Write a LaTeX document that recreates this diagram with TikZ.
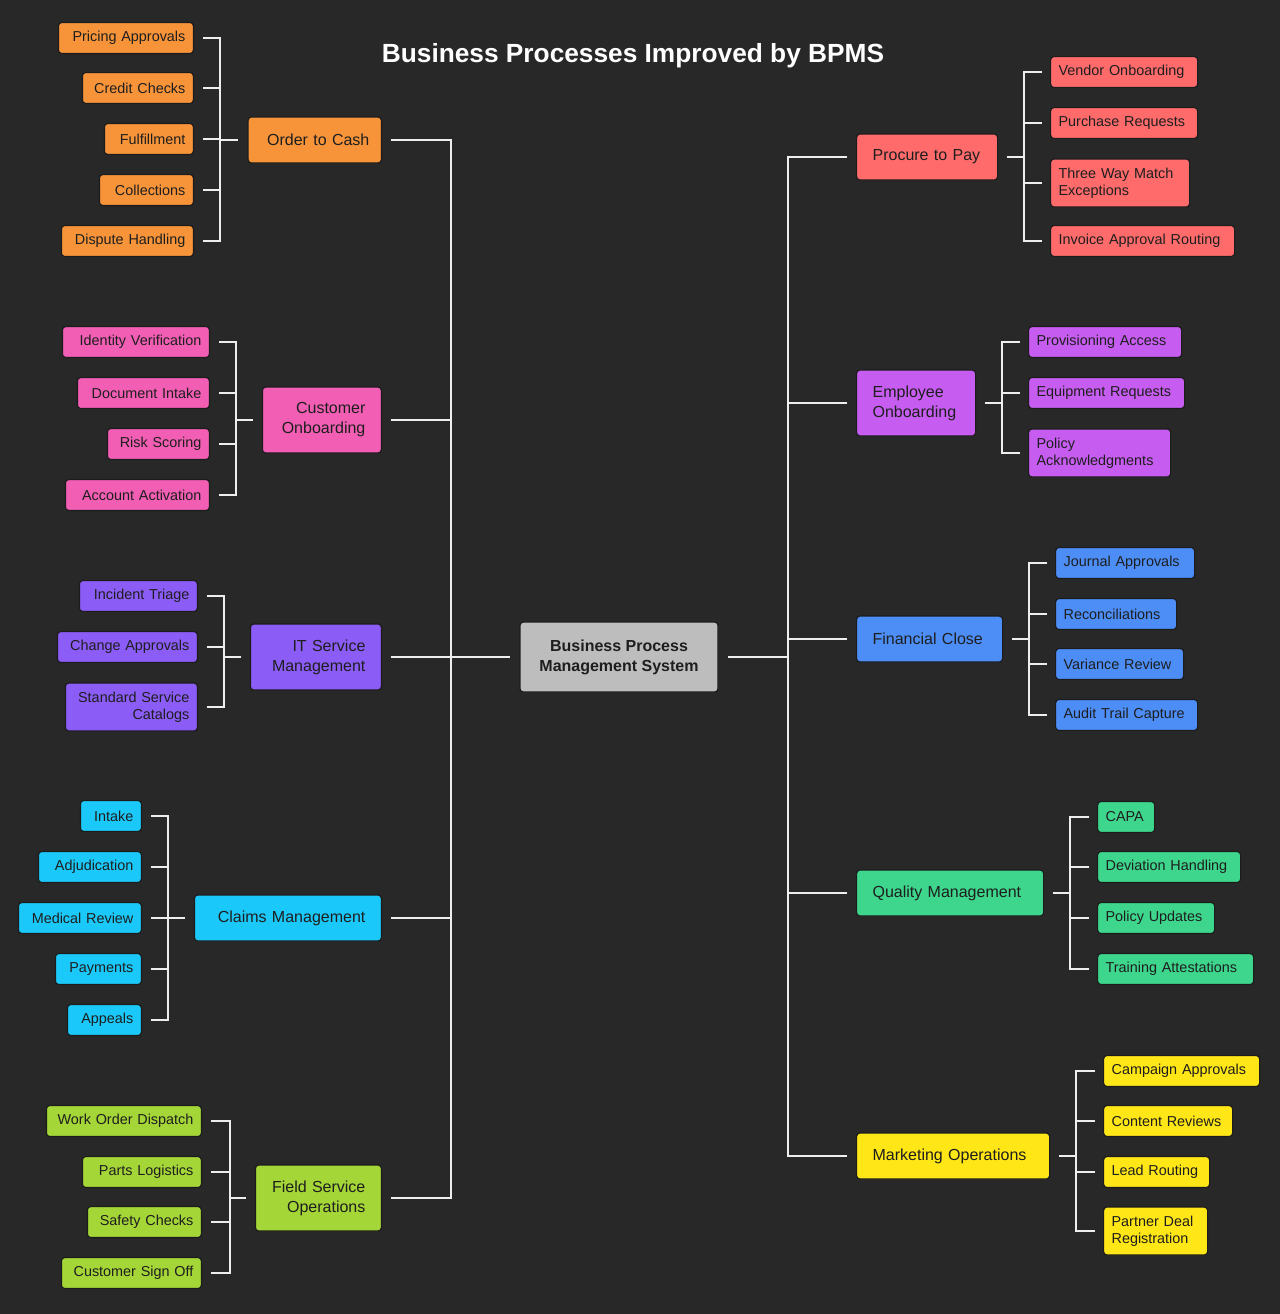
\documentclass[tikz,border=0pt]{standalone}
\usepackage{fontspec}
\setmainfont{Liberation Sans}
\definecolor{bgc}{HTML}{282828}
\definecolor{linec}{HTML}{EEEEEE}
\definecolor{edgec}{HTML}{1C1C1C}
\definecolor{txtc}{HTML}{1E1E1E}
\definecolor{corange}{HTML}{F7943A}
\definecolor{cpink}{HTML}{F25EB3}
\definecolor{cpurple}{HTML}{8B5CF6}
\definecolor{ccyan}{HTML}{1BC8FA}
\definecolor{clime}{HTML}{A5D638}
\definecolor{cred}{HTML}{FF6B6B}
\definecolor{cviolet}{HTML}{C65DF0}
\definecolor{cblue}{HTML}{4C8DF6}
\definecolor{cgreen}{HTML}{3DD68C}
\definecolor{cyellow}{HTML}{FFE617}
\definecolor{cgray}{HTML}{BDBDBD}
\newcommand\lfnt{\fontsize{10.8}{12.75}\selectfont}
\newcommand\mfnt{\fontsize{12}{15}\selectfont}
\tikzset{
  conn/.style={draw=linec, line width=1.5pt},
  bx/.style={rounded corners=2.5pt, draw=edgec, line width=0.9pt, text=txtc, inner ysep=1pt},
  lw/.style={/utils/exec={\pgfmathsetmacro\mytw{(#1-16)*0.75}}, text width=\mytw pt},
  mw/.style={/utils/exec={\pgfmathsetmacro\mytw{(#1-32)*0.75}}, text width=\mytw pt},
  leaf/.style={bx, fill=#1, font=\lfnt, inner xsep=6pt, minimum height=23.25pt},
  leafL/.style={leaf=#1, anchor=east, align=right},
  leafR/.style={leaf=#1, anchor=west, align=left},
  tall/.style={minimum height=36pt},
  mid/.style={bx, fill=#1, font=\mfnt, inner xsep=12pt, minimum height=34.5pt},
  midL/.style={mid=#1, anchor=east, align=right},
  midR/.style={mid=#1, anchor=west, align=left},
  midtall/.style={minimum height=49.5pt},
}
\begin{document}
\begin{tikzpicture}[x=0.75pt, y=-0.75pt]
\fill[bgc] (0,0) rectangle (1280,1314);
\useasboundingbox (0,0) rectangle (1280,1314);

\node[text=white, font=\bfseries\fontsize{19.7}{22}\selectfont] (title) at (633,56) {Business Processes Improved by BPMS};

% center
\node[bx, fill=cgray, font=\bfseries\fontsize{12}{15}\selectfont, align=center, minimum width=148.5pt, minimum height=52.5pt] (ctr) at (619,657) {Business Process\\Management System};

% ---------- left parents ----------
\node[midL=corange, inner xsep=9pt, text width=82pt] (A) at (382,140) {Order to Cash};
\node[midL=cpink, mw=119, midtall] (B) at (382,420) {Customer\\Onboarding};
\node[midL=cpurple, mw=131, midtall] (C) at (382,657) {IT Service\\Management};
\node[midL=ccyan, mw=187] (D) at (382,918) {Claims Management};
\node[midL=clime, mw=126, midtall] (E) at (382,1198) {Field Service\\Operations};

% ---------- right parents ----------
\node[midR=cred, mw=141] (F) at (856,157) {Procure to Pay};
\node[midR=cviolet, mw=119, midtall] (G) at (856,403) {Employee\\Onboarding};
\node[midR=cblue, mw=146] (H) at (856,639) {Financial Close};
\node[midR=cgreen, mw=187] (I) at (856,893) {Quality Management};
\node[midR=cyellow, mw=193] (J) at (856,1156) {Marketing Operations};

% ---------- left leaves ----------
\node[leafL=corange, lw=135] (a1) at (194,38) {Pricing Approvals};
\node[leafL=corange, lw=111] (a2) at (194,88) {Credit Checks};
\node[leafL=corange, lw=89] (a3) at (194,139) {Fulfillment};
\node[leafL=corange, lw=94] (a4) at (194,190) {Collections};
\node[leafL=corange, lw=132] (a5) at (194,241) {Dispute Handling};

\node[leafL=cpink, lw=147] (b1) at (210,342) {Identity Verification};
\node[leafL=cpink, lw=132] (b2) at (210,393) {Document Intake};
\node[leafL=cpink, lw=102] (b3) at (210,444) {Risk Scoring};
\node[leafL=cpink, lw=144] (b4) at (210,495) {Account Activation};

\node[leafL=cpurple, lw=118] (c1) at (198,596) {Incident Triage};
\node[leafL=cpurple, lw=140] (c2) at (198,647) {Change Approvals};
\node[leafL=cpurple, lw=132, tall] (c3) at (198,707) {Standard Service\\Catalogs};

\node[leafL=ccyan, lw=61] (d1) at (142,816) {Intake};
\node[leafL=ccyan, lw=103] (d2) at (142,867) {Adjudication};
\node[leafL=ccyan, lw=123] (d3) at (142,918) {Medical Review};
\node[leafL=ccyan, lw=86] (d4) at (142,969) {Payments};
\node[leafL=ccyan, lw=74] (d5) at (142,1020) {Appeals};

\node[leafL=clime, lw=155] (e1) at (202,1121) {Work Order Dispatch};
\node[leafL=clime, lw=119] (e2) at (202,1172) {Parts Logistics};
\node[leafL=clime, lw=114] (e3) at (202,1222) {Safety Checks};
\node[leafL=clime, lw=140] (e4) at (202,1273) {Customer Sign Off};

% ---------- right leaves ----------
\node[leafR=cred, lw=147] (f1) at (1050,72) {Vendor Onboarding};
\node[leafR=cred, lw=147] (f2) at (1050,123) {Purchase Requests};
\node[leafR=cred, lw=139, tall] (f3) at (1050,183) {Three Way Match\\Exceptions};
\node[leafR=cred, lw=184] (f4) at (1050,241) {Invoice Approval Routing};

\node[leafR=cviolet, lw=153] (g1) at (1028,342) {Provisioning Access};
\node[leafR=cviolet, lw=156] (g2) at (1028,393) {Equipment Requests};
\node[leafR=cviolet, lw=142, tall] (g3) at (1028,453) {Policy\\Acknowledgments};

\node[leafR=cblue, lw=139] (h1) at (1055,563) {Journal Approvals};
\node[leafR=cblue, lw=121] (h2) at (1055,614) {Reconciliations};
\node[leafR=cblue, lw=128] (h3) at (1055,664) {Variance Review};
\node[leafR=cblue, lw=142] (h4) at (1055,715) {Audit Trail Capture};

\node[leafR=cgreen, lw=57] (i1) at (1097,817) {CAPA};
\node[leafR=cgreen, lw=143] (i2) at (1097,867) {Deviation Handling};
\node[leafR=cgreen, lw=117] (i3) at (1097,918) {Policy Updates};
\node[leafR=cgreen, lw=156] (i4) at (1097,969) {Training Attestations};

\node[leafR=cyellow, lw=156] (j1) at (1103,1071) {Campaign Approvals};
\node[leafR=cyellow, lw=129] (j2) at (1103,1121) {Content Reviews};
\node[leafR=cyellow, lw=106] (j3) at (1103,1172) {Lead Routing};
\node[leafR=cyellow, lw=104, tall] (j4) at (1103,1231) {Partner Deal\\Registration};

% ---------- trunks ----------
\coordinate (tl) at (451,657);
\coordinate (tr) at (788,657);
\draw[conn] ([xshift=6.75pt]A.east) -- (tl|-A.east) -- (tl|-E.east) -- ([xshift=6.75pt]E.east);
\foreach \n in {B,C,D} \draw[conn] ([xshift=6.75pt]\n.east) -- (tl|-\n.east);
\draw[conn] (tl) -- ([xshift=-6.75pt]ctr.west);
\draw[conn] ([xshift=-6.75pt]F.west) -- (tr|-F.west) -- (tr|-J.west) -- ([xshift=-6.75pt]J.west);
\foreach \n in {G,H,I} \draw[conn] ([xshift=-6.75pt]\n.west) -- (tr|-\n.west);
\draw[conn] ([xshift=6.75pt]ctr.east) -- (tr);

% ---------- left brackets ----------
\coordinate (ka) at (220,140);
\draw[conn] ([xshift=6.75pt]a1.east) -- (ka|-a1.east) -- (ka|-a5.east) -- ([xshift=6.75pt]a5.east);
\foreach \n in {a2,a3,a4} \draw[conn] ([xshift=6.75pt]\n.east) -- (ka|-\n.east);
\draw[conn] (ka|-A.west) -- ([xshift=-6.75pt]A.west);

\coordinate (kb) at (236,420);
\draw[conn] ([xshift=6.75pt]b1.east) -- (kb|-b1.east) -- (kb|-b4.east) -- ([xshift=6.75pt]b4.east);
\foreach \n in {b2,b3} \draw[conn] ([xshift=6.75pt]\n.east) -- (kb|-\n.east);
\draw[conn] (kb|-B.west) -- ([xshift=-6.75pt]B.west);

\coordinate (kc) at (224,657);
\draw[conn] ([xshift=6.75pt]c1.east) -- (kc|-c1.east) -- (kc|-c3.east) -- ([xshift=6.75pt]c3.east);
\draw[conn] ([xshift=6.75pt]c2.east) -- (kc|-c2.east);
\draw[conn] (kc|-C.west) -- ([xshift=-6.75pt]C.west);

\coordinate (kd) at (168,918);
\draw[conn] ([xshift=6.75pt]d1.east) -- (kd|-d1.east) -- (kd|-d5.east) -- ([xshift=6.75pt]d5.east);
\foreach \n in {d2,d3,d4} \draw[conn] ([xshift=6.75pt]\n.east) -- (kd|-\n.east);
\draw[conn] (kd|-D.west) -- ([xshift=-6.75pt]D.west);

\coordinate (ke) at (230,1198);
\draw[conn] ([xshift=6.75pt]e1.east) -- (ke|-e1.east) -- (ke|-e4.east) -- ([xshift=6.75pt]e4.east);
\foreach \n in {e2,e3} \draw[conn] ([xshift=6.75pt]\n.east) -- (ke|-\n.east);
\draw[conn] (ke|-E.west) -- ([xshift=-6.75pt]E.west);

% ---------- right brackets ----------
\coordinate (kf) at (1024,157);
\draw[conn] ([xshift=-6pt]f1.west) -- (kf|-f1.west) -- (kf|-f4.west) -- ([xshift=-6pt]f4.west);
\foreach \n in {f2,f3} \draw[conn] ([xshift=-6pt]\n.west) -- (kf|-\n.west);
\draw[conn] ([xshift=6.75pt]F.east) -- (kf|-F.east);

\coordinate (kg) at (1002,403);
\draw[conn] ([xshift=-6pt]g1.west) -- (kg|-g1.west) -- (kg|-g3.west) -- ([xshift=-6pt]g3.west);
\draw[conn] ([xshift=-6pt]g2.west) -- (kg|-g2.west);
\draw[conn] ([xshift=6.75pt]G.east) -- (kg|-G.east);

\coordinate (kh) at (1029,639);
\draw[conn] ([xshift=-6pt]h1.west) -- (kh|-h1.west) -- (kh|-h4.west) -- ([xshift=-6pt]h4.west);
\foreach \n in {h2,h3} \draw[conn] ([xshift=-6pt]\n.west) -- (kh|-\n.west);
\draw[conn] ([xshift=6.75pt]H.east) -- (kh|-H.east);

\coordinate (ki) at (1070,893);
\draw[conn] ([xshift=-6pt]i1.west) -- (ki|-i1.west) -- (ki|-i4.west) -- ([xshift=-6pt]i4.west);
\foreach \n in {i2,i3} \draw[conn] ([xshift=-6pt]\n.west) -- (ki|-\n.west);
\draw[conn] ([xshift=6.75pt]I.east) -- (ki|-I.east);

\coordinate (kj) at (1076,1156);
\draw[conn] ([xshift=-6pt]j1.west) -- (kj|-j1.west) -- (kj|-j4.west) -- ([xshift=-6pt]j4.west);
\foreach \n in {j2,j3} \draw[conn] ([xshift=-6pt]\n.west) -- (kj|-\n.west);
\draw[conn] ([xshift=6.75pt]J.east) -- (kj|-J.east);
\end{tikzpicture}
\end{document}
